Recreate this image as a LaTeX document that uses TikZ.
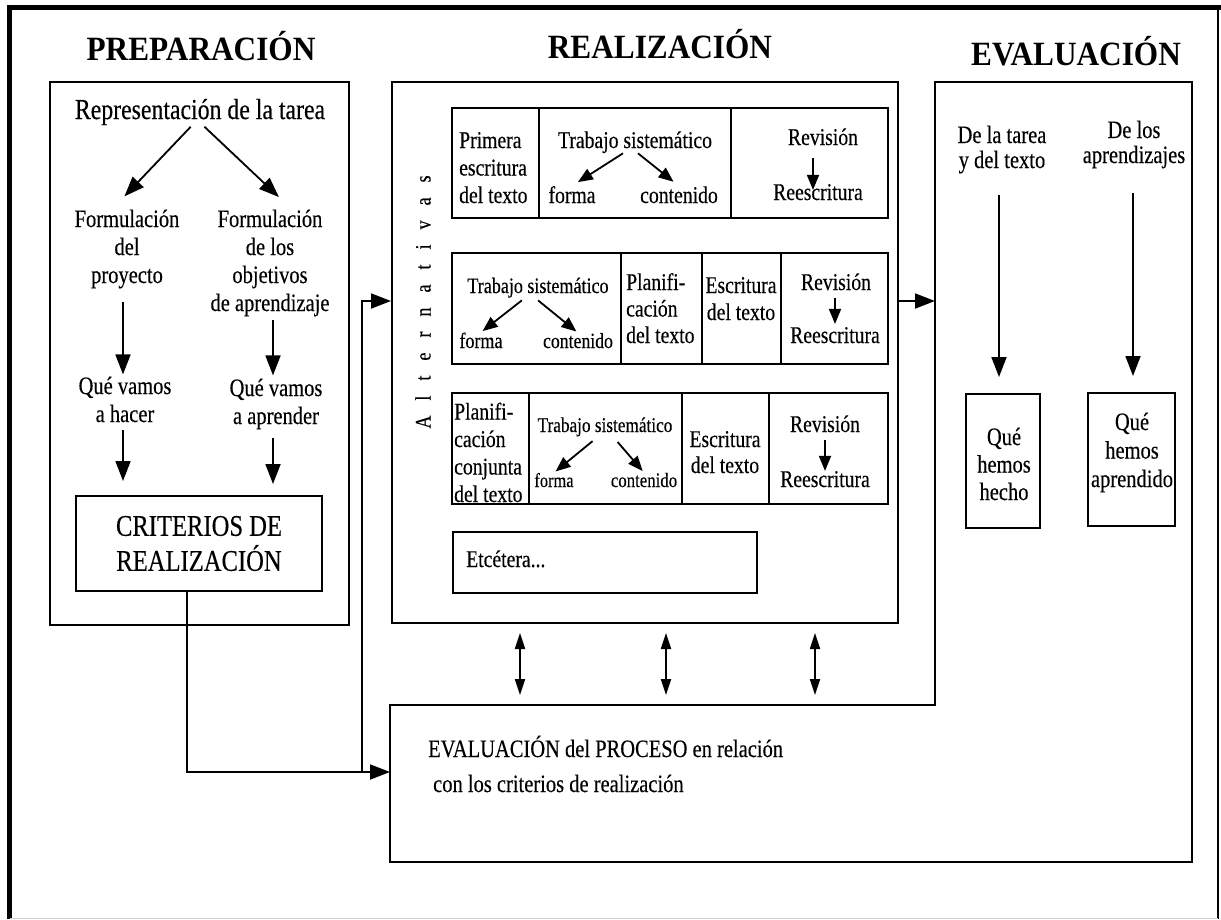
\documentclass[tikz,border=0pt]{standalone}
\usepackage{fontspec}
\setmainfont{Liberation Serif}[FakeStretch=0.82,FakeBold=0.3]
\newfontfamily\headfont{Liberation Serif}[FakeStretch=0.92]
\usetikzlibrary{arrows.meta,fit}
\newcommand{\widespace}{\spaceskip=15pt\relax}

\begin{document}
\begin{tikzpicture}[x=1pt,y=-1pt,
    heading/.style={font=\headfont\bfseries\fontsize{34}{40}\selectfont,inner sep=0pt,anchor=base},
    txt/.style={font=\fontsize{25}{28}\selectfont,inner sep=0pt,align=center,anchor=base},
    celltxt/.style={font=\fontsize{24}{27.5}\selectfont,inner sep=0pt,align=center,anchor=base},
    box/.style={draw,line width=2pt,inner sep=0pt},
    arr/.style={line width=1.8pt,-{Triangle[length=20pt,width=15pt]}},
    sarr/.style={line width=1.8pt,-{Triangle[length=15pt,width=12pt]}},
    darr/.style={line width=1.8pt,{Triangle[length=16pt,width=10pt]}-{Triangle[length=16pt,width=10pt]}}]
\useasboundingbox (0,0) rectangle (1221,919);
% marco
\draw[line width=5pt] (9.5,919) -- (9.5,7.5) -- (1221,7.5);
\draw[line width=2pt] (1218,7.5) -- (1218,919);
\draw[gray!35] (9.5,918) -- (1218,918);

\node[heading] (tprep) at (201,60) {PREPARACIÓN};
\node[heading] (treal) at (660,58) {REALIZACIÓN};
\node[heading] (teval) at (1076,65) {EVALUACIÓN};

% preparacion
\node[box,fit={(50,82) (349,625)}] (prep) {};
\node[txt,font=\fontsize{29}{32}\selectfont] (repr) at (200,119) {Representación de la tarea};
\node[txt] (form1) at (127,283) {Formulación\\del\\proyecto};
\node[txt] (form2) at (270,311) {Formulación\\de los\\objetivos\\de aprendizaje};
\node[txt] (qv1) at (125,422) {Qué vamos\\a hacer};
\node[txt] (qv2) at (276,424) {Qué vamos\\a aprender};
\node[box,minimum width=246pt,minimum height=95pt,align=center,
  font=\fontsize{30}{35}\selectfont] (crit) at (199,543.5) {CRITERIOS DE\\REALIZACIÓN};
\draw[arr,shorten <=2pt,shorten >=18pt] ([xshift=-8pt]repr.south) -- ([xshift=-15pt]form1.north);
\draw[arr,shorten <=2pt,shorten >=18pt] ([xshift=3pt]repr.south) -- ([xshift=22pt]form2.north);
\draw[arr,shorten <=13pt,shorten >=2pt] ([xshift=-4pt]form1.south) -- ([xshift=-4pt]form1.south |- qv1.north);
\draw[arr,shorten <=3pt,shorten >=3pt] ([xshift=3pt]form2.south) -- ([xshift=3pt]form2.south |- qv2.north);
\draw[arr,shorten <=8pt,shorten >=14pt] ([xshift=-2pt]qv1.south) -- ([xshift=-2pt]qv1.south |- crit.north);
\draw[arr,shorten <=8pt,shorten >=11pt] ([xshift=-3pt]qv2.south) -- ([xshift=-3pt]qv2.south |- crit.north);

% realizacion
\node[box,fit={(392,82) (898,623)}] (real) {};
\node[rotate=90,inner sep=0pt,font=\fontsize{22}{24}\selectfont\widespace] (alt) at (423,302) {A l t e r n a t i v a s};

\draw[line width=2pt] (452,108) rectangle (888,218);
\draw[line width=2pt] (539,108) -- (539,218) (731,108) -- (731,218);
\node[celltxt,align=left,anchor=base west] (prim) at (459,203) {Primera\\escritura\\del texto};
\node[celltxt] (ts1) at (635,148) {Trabajo sistemático};
\node[celltxt] (fo1) at (572,203) {forma};
\node[celltxt] (co1) at (679,203) {contenido};
\node[celltxt] (rev1) at (823,145) {Revisión};
\node[celltxt] (rees1) at (818,200) {Reescritura};
\draw[sarr,shorten >=7pt] ([xshift=-12pt]ts1.south) -- (fo1.north);
\draw[sarr,shorten >=7pt] ([xshift=3pt]ts1.south) -- (co1.north);
\draw[sarr,shorten <=13pt,shorten >=-6pt] ([xshift=-10pt]rev1.south) -- ([xshift=-10pt]rev1.south |- rees1.north);

\draw[line width=2pt] (452,253) rectangle (888,364);
\draw[line width=2pt] (621,253) -- (621,364) (702,253) -- (702,364) (781,253) -- (781,364);
\node[celltxt,font=\fontsize{22}{25}\selectfont] (ts2) at (538,293) {Trabajo sistemático};
\node[celltxt,font=\fontsize{22}{25}\selectfont] (fo2) at (481,348) {forma};
\node[celltxt,font=\fontsize{21.6}{25}\selectfont] (co2) at (578,348) {contenido};
\node[celltxt,align=left,anchor=base west,font=\fontsize{24}{26.5}\selectfont] (plan2) at (626,343) {Planifi-\\cación\\del texto};
\node[celltxt,font=\fontsize{24}{27}\selectfont] (esc2) at (741,320) {Escritura\\del texto};
\node[celltxt] (rev2) at (836,290) {Revisión};
\node[celltxt] (rees2) at (835,343) {Reescritura};
\draw[sarr,shorten <=4pt,shorten >=2pt] ([xshift=-13pt]ts2.south) -- (fo2.north);
\draw[sarr,shorten <=4pt,shorten >=2pt] ([xshift=-3pt]ts2.south) -- (co2.north);
\draw[sarr,shorten <=8pt,shorten >=3pt] ([xshift=-1pt]rev2.south) -- ([xshift=-1pt]rev2.south |- rees2.north);

\draw[line width=2pt] (452,393) rectangle (888,504);
\draw[line width=2pt] (529,393) -- (529,504) (682,393) -- (682,504) (769,393) -- (769,504);
\node[celltxt,align=left,anchor=base west] (plan3) at (454,502) {Planifi-\\cación\\conjunta\\del texto};
\node[celltxt,font=\fontsize{21}{25}\selectfont] (ts3) at (605,432) {Trabajo sistemático};
\node[celltxt,font=\fontsize{20}{25}\selectfont] (fo3) at (554,487) {forma};
\node[celltxt,font=\fontsize{20.5}{25}\selectfont] (co3) at (644,487) {contenido};
\node[celltxt,font=\fontsize{24}{26}\selectfont] (esc3) at (725,473) {Escritura\\del texto};
\node[celltxt] (rev3) at (825,432) {Revisión};
\node[celltxt] (rees3) at (825,487) {Reescritura};
\draw[sarr,shorten <=7pt,shorten >=2pt] ([xshift=-7pt]ts3.south) -- (fo3.north);
\draw[sarr,shorten <=7pt,shorten >=2pt] ([xshift=8pt]ts3.south) -- (co3.north);
\draw[sarr,shorten <=8pt] (rev3.south) -- (rev3.south |- rees3.north);

\node[box,fit={(453,532) (757,593)}] (etc) {};
\node[celltxt,anchor=base west] (etctxt) at (466,567) {Etcétera...};

% evaluacion
\draw[line width=2pt] (390,705) -- (935,705) -- (935,82) -- (1192,82) -- (1192,862) -- (390,862) -- cycle;
\coordinate (evalin) at (935,301);
\coordinate (procin) at (390,772);
\coordinate (split) at (362,772);
\coordinate (pt1) at (520,705);
\coordinate (pt2) at (666,705);
\coordinate (pt3) at (815,705);
\node[txt,font=\fontsize{25}{25}\selectfont] (tarea) at (1002,168) {De la tarea\\y del texto};
\node[txt,font=\fontsize{25}{25}\selectfont] (apren) at (1134,163) {De los\\aprendizajes};
\node[box,fit={(966,394) (1040,528)}] (hecho) {};
\node[txt,font=\fontsize{25}{27.5}\selectfont] (hechotxt) at (1004,500) {Qué\\hemos\\hecho};
\node[box,fit={(1088,393) (1175,526)}] (aprbox) {};
\node[txt,font=\fontsize{25}{28.5}\selectfont] (aprtxt) at (1132,487) {Qué\\hemos\\aprendido};
\draw[arr,shorten <=21pt,shorten >=16pt] ([xshift=-3pt]tarea.south) -- ([xshift=-3pt]tarea.south |- hecho.north);
\draw[arr,shorten <=24pt,shorten >=16pt] ([xshift=-1pt]apren.south) -- ([xshift=-1pt]apren.south |- aprbox.north);
\node[txt,align=left,anchor=base west,font=\fontsize{25}{35}\selectfont] (proc) at (428,792)
  {EVALUACIÓN del PROCESO en relación\\\hspace{5pt}con los criterios de realización};

% conexiones
\draw[arr] (real.east |- evalin) -- (evalin);
\draw[arr] ([xshift=-12pt]crit.south) |- (procin);
\draw[arr] (split) |- (real.west |- evalin);
\draw[darr,shorten <=9pt,shorten >=10pt] (real.south -| pt1) -- (pt1);
\draw[darr,shorten <=9pt,shorten >=10pt] (real.south -| pt2) -- (pt2);
\draw[darr,shorten <=9pt,shorten >=10pt] (real.south -| pt3) -- (pt3);
\end{tikzpicture}
\end{document}
